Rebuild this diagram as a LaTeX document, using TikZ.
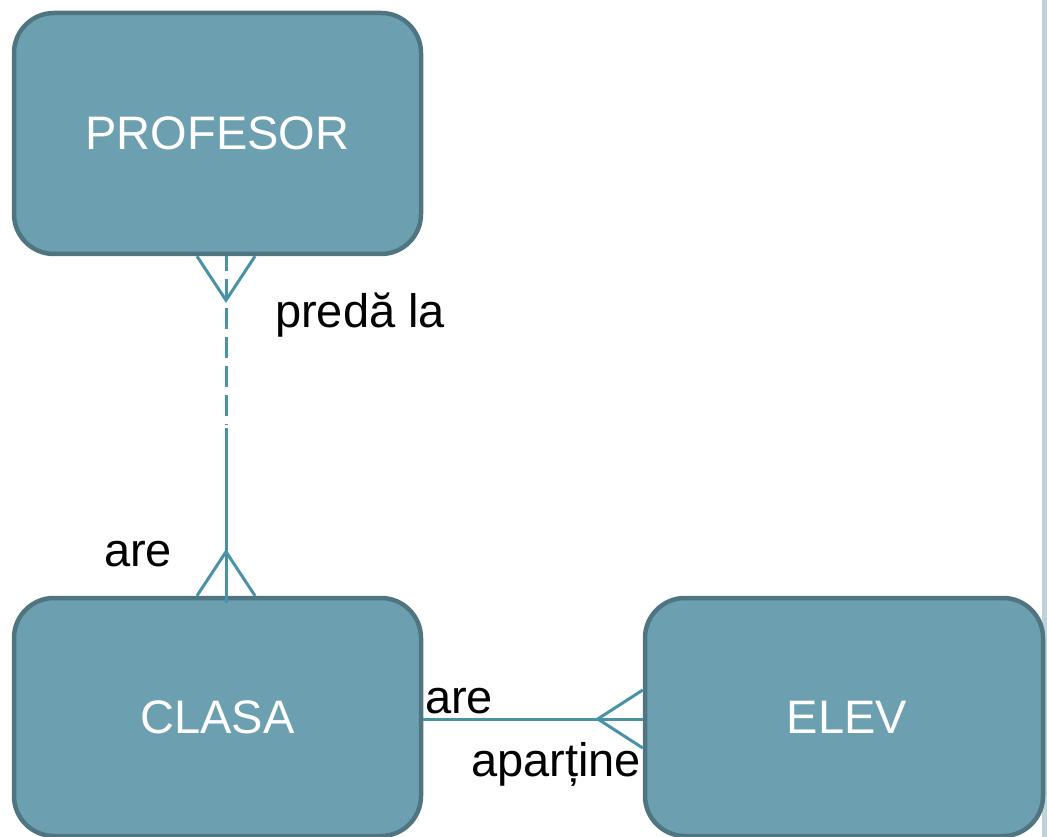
\documentclass[tikz,border=0pt]{standalone}
\usepackage{fontspec}
\setmainfont{Liberation Sans}
\begin{document}
\begin{tikzpicture}[x=1pt,y=-1pt,
  entity/.style={draw=entityedge, fill=entityfill, line width=4.5pt, rounded corners=40pt,
    text=white, font=\fontsize{47}{56}\selectfont, inner sep=0pt},
  conn/.style={draw=connline, line width=3pt},
  lbl/.style={font=\fontsize{47}{56}\selectfont, text=black, inner sep=0pt, anchor=base west}]
\definecolor{entityfill}{HTML}{6CA0B0}
\definecolor{entityedge}{HTML}{4F7581}
\definecolor{connline}{HTML}{4A93A7}
\definecolor{sidestrip}{HTML}{C0D2D8}
\useasboundingbox (0,0) rectangle (1047,837);
\clip (0,0) rectangle (1047,837);
\fill[sidestrip] (1042,0) rectangle (1047,837);

% entities
\node[entity, minimum width=407pt, minimum height=241pt] (prof) at (217.5,133.5) {PROFESOR};
\node[entity, minimum width=407pt, minimum height=238pt] (clasa) at (217.5,717) {CLASA};
\node[entity, minimum width=398pt, minimum height=238pt] (elev) at (844,717) {\hspace*{6pt}ELEV};

% PROFESOR -- CLASA: optional half dashed, mandatory half solid
\draw[conn, dash pattern=on 21pt off 8pt, dash phase=6pt] ([xshift=8.5]prof.south) -- ([xshift=8.5,yshift=171]clasa.north);
\draw[conn] ([xshift=8.5,yshift=168]clasa.north) -- ([xshift=8.5,yshift=-7]clasa.north);
\draw[conn] ([xshift=-20.5]prof.south) -- ([xshift=8.5,yshift=-44]prof.south) -- ([xshift=37.5]prof.south);
\draw[conn] ([xshift=-20.5]clasa.north) -- ([xshift=8.5,yshift=44]clasa.north) -- ([xshift=37.5]clasa.north);

% CLASA -- ELEV
\draw[conn] ([yshift=-2]clasa.east) -- ([yshift=-2]elev.west);
\draw[conn] ([yshift=27]elev.west) -- ([xshift=-45,yshift=-2]elev.west) -- ([yshift=-31]elev.west);

% relationship labels
\node[lbl] (lpreda) at (275,327) {predă la};
\node[lbl] (lare1) at (104,566) {are};
\node[lbl] (lare2) at (425,713) {are};
\node[lbl] (lapart) at (471,776) {aparține};
\end{tikzpicture}
\end{document}
